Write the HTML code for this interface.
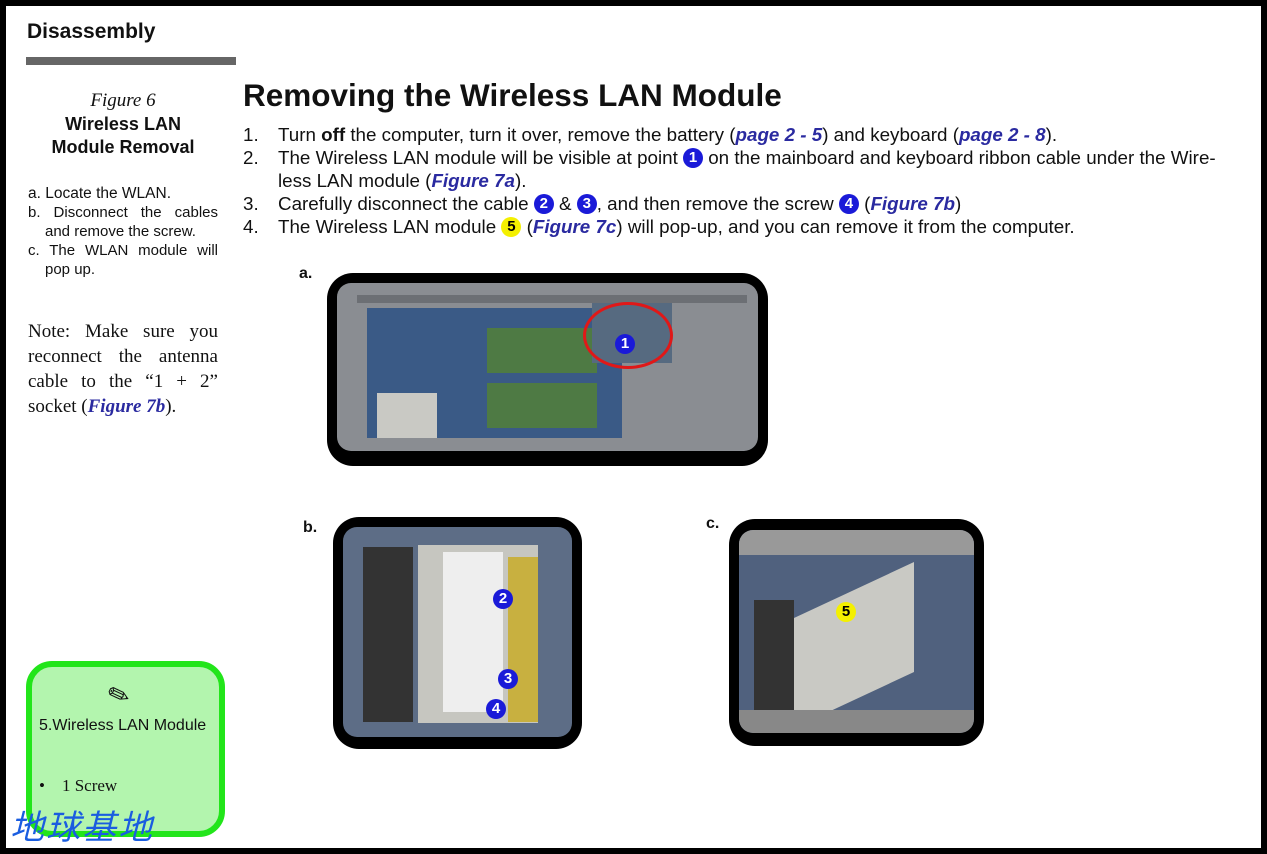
<!DOCTYPE html>
<html><head><meta charset="utf-8"><style>
*{margin:0;padding:0;box-sizing:border-box}
body{width:1267px;height:854px;background:#000;position:relative;overflow:hidden;font-family:"Liberation Sans",sans-serif;color:#111}
#pg{position:absolute;left:6px;top:6px;width:1255px;height:842px;background:#fff}
.a{position:absolute}
.n{display:inline-block;text-indent:0;width:20px;height:20px;border-radius:50%;background:#1a1ad8;color:#fff;font-weight:bold;font-size:15px;font-style:normal;text-align:center;line-height:20px;vertical-align:top;margin-top:2px}
.y{background:#f4f000;color:#000}
i.l{color:#2a2aa0;font-weight:bold}
.ph{position:absolute;background:#000;border-radius:26px}
.in{position:absolute;border-radius:14px;overflow:hidden}
.li{position:relative;padding-left:35px;height:23px}
.li.t{height:46px}
.li s{position:absolute;left:0;text-decoration:none}
</style></head><body><div id="pg"></div>
<div class="a" style="left:27px;top:20px;font-size:21px;font-weight:bold">Disassembly</div>
<div class="a" style="left:26px;top:57px;width:210px;height:8px;background:#666"></div>
<div class="a" style="left:28px;top:90px;width:190px;text-align:center;font-family:'Liberation Serif',serif;font-style:italic;font-size:19px">Figure 6</div>
<div class="a" style="left:28px;top:113px;width:190px;text-align:center;font-size:18px;font-weight:bold;line-height:23px">Wireless LAN<br>Module Removal</div>
<div class="a" style="left:28px;top:184px;width:190px;font-size:15.5px;line-height:19px">
<div>a. Locate the WLAN.</div>
<div style="text-align:justify;padding-left:17px;text-indent:-17px;font-size:15px">b. Disconnect the cables and remove the screw.</div>
<div style="text-align:justify;padding-left:17px;text-indent:-17px;font-size:15px">c. The WLAN module will pop up.</div></div>
<div class="a" style="left:28px;top:319px;width:190px;font-family:'Liberation Serif',serif;font-size:19px;line-height:25px;text-align:justify">Note: Make sure you reconnect the antenna cable to the “1 + 2” socket (<i class="l">Figure 7b</i>).</div>
<div class="a" style="left:26px;top:661px;width:199px;height:176px;background:#b3f5ae;border:6px solid #22e51a;border-radius:26px"></div>
<div class="a" style="left:108px;top:680px;font-size:26px;transform:rotate(-20deg)">✎</div>
<div class="a" style="left:39px;top:717px;font-size:16px">5.Wireless LAN Module</div>
<div class="a" style="left:39px;top:776px;font-size:17px;font-family:'Liberation Serif',serif">•&nbsp;&nbsp;&nbsp;&nbsp;1 Screw</div>
<div class="a" style="left:10px;top:800px;font-size:34px;color:#1a5de0;font-style:italic;font-family:'Noto Sans CJK SC',sans-serif;letter-spacing:2px">地球基地</div>
<div class="a" style="left:243px;top:77px;font-size:31.5px;font-weight:bold">Removing the Wireless LAN Module</div>
<div class="a" style="left:243px;top:123px;width:1010px;font-size:18.8px;line-height:23px;white-space:nowrap">
<div class="li"><s>1.</s>Turn <b>off</b> the computer, turn it over, remove the battery (<i class="l">page 2 - 5</i>) and keyboard (<i class="l">page 2 - 8</i>).</div>
<div class="li t"><s>2.</s>The Wireless LAN module will be visible at point <span class="n">1</span> on the mainboard and keyboard ribbon cable under the Wire-<br>less LAN module (<i class="l">Figure 7a</i>).</div>
<div class="li"><s>3.</s>Carefully disconnect the cable <span class="n">2</span> &amp; <span class="n">3</span>, and then remove the screw <span class="n">4</span> (<i class="l">Figure 7b</i>)</div>
<div class="li"><s>4.</s>The Wireless LAN module <span class="n y">5</span> (<i class="l">Figure 7c</i>) will pop-up, and you can remove it from the computer.</div></div>
<div class="a" style="left:299px;top:265px;font-weight:bold;font-size:16px">a.</div>
<div class="a" style="left:303px;top:519px;font-weight:bold;font-size:16px">b.</div>
<div class="a" style="left:706px;top:515px;font-weight:bold;font-size:16px">c.</div>
<div class="ph" style="left:327px;top:273px;width:441px;height:193px"></div>
<div class="in" style="left:337px;top:283px;width:421px;height:168px;background:#8a8d92">
 <div class="a" style="left:20px;top:12px;width:390px;height:8px;background:#6c6f74"></div>
 <div class="a" style="left:30px;top:25px;width:255px;height:130px;background:#3a5a86"></div>
 <div class="a" style="left:150px;top:45px;width:110px;height:45px;background:#4e7a44"></div>
 <div class="a" style="left:150px;top:100px;width:110px;height:45px;background:#4e7a44"></div>
 <div class="a" style="left:40px;top:110px;width:60px;height:45px;background:#c9c9c4"></div>
 <div class="a" style="left:255px;top:20px;width:80px;height:60px;background:#566a80"></div>
 <div class="a" style="left:246px;top:19px;width:90px;height:67px;border:3px solid #e01818;border-radius:50%"></div>
 <div class="a" style="left:278px;top:49px"><span class="n">1</span></div>
</div>
<div class="ph" style="left:333px;top:517px;width:249px;height:232px"></div>
<div class="in" style="left:343px;top:527px;width:229px;height:210px;background:#5d6d86">
 <div class="a" style="left:20px;top:20px;width:50px;height:175px;background:#333"></div>
 <div class="a" style="left:75px;top:18px;width:120px;height:178px;background:#c6c6c0"></div>
 <div class="a" style="left:100px;top:25px;width:60px;height:160px;background:#eee"></div>
 <div class="a" style="left:165px;top:30px;width:30px;height:165px;background:#c8b040"></div>
 <div class="a" style="left:150px;top:60px"><span class="n">2</span></div>
 <div class="a" style="left:155px;top:140px"><span class="n">3</span></div>
 <div class="a" style="left:143px;top:170px"><span class="n">4</span></div>
</div>
<div class="ph" style="left:729px;top:519px;width:255px;height:227px"></div>
<div class="in" style="left:739px;top:530px;width:235px;height:203px;background:#50617e">
 <div class="a" style="left:0;top:0;width:235px;height:25px;background:#999"></div>
 <div class="a" style="left:15px;top:70px;width:40px;height:110px;background:#333"></div>
 <div class="a" style="left:55px;top:60px;width:120px;height:110px;background:#c9c9c4;transform:skewY(-25deg)"></div>
 <div class="a" style="left:0;top:180px;width:235px;height:23px;background:#888"></div>
 <div class="a" style="left:97px;top:70px"><span class="n y">5</span></div>
</div>
</body></html>
